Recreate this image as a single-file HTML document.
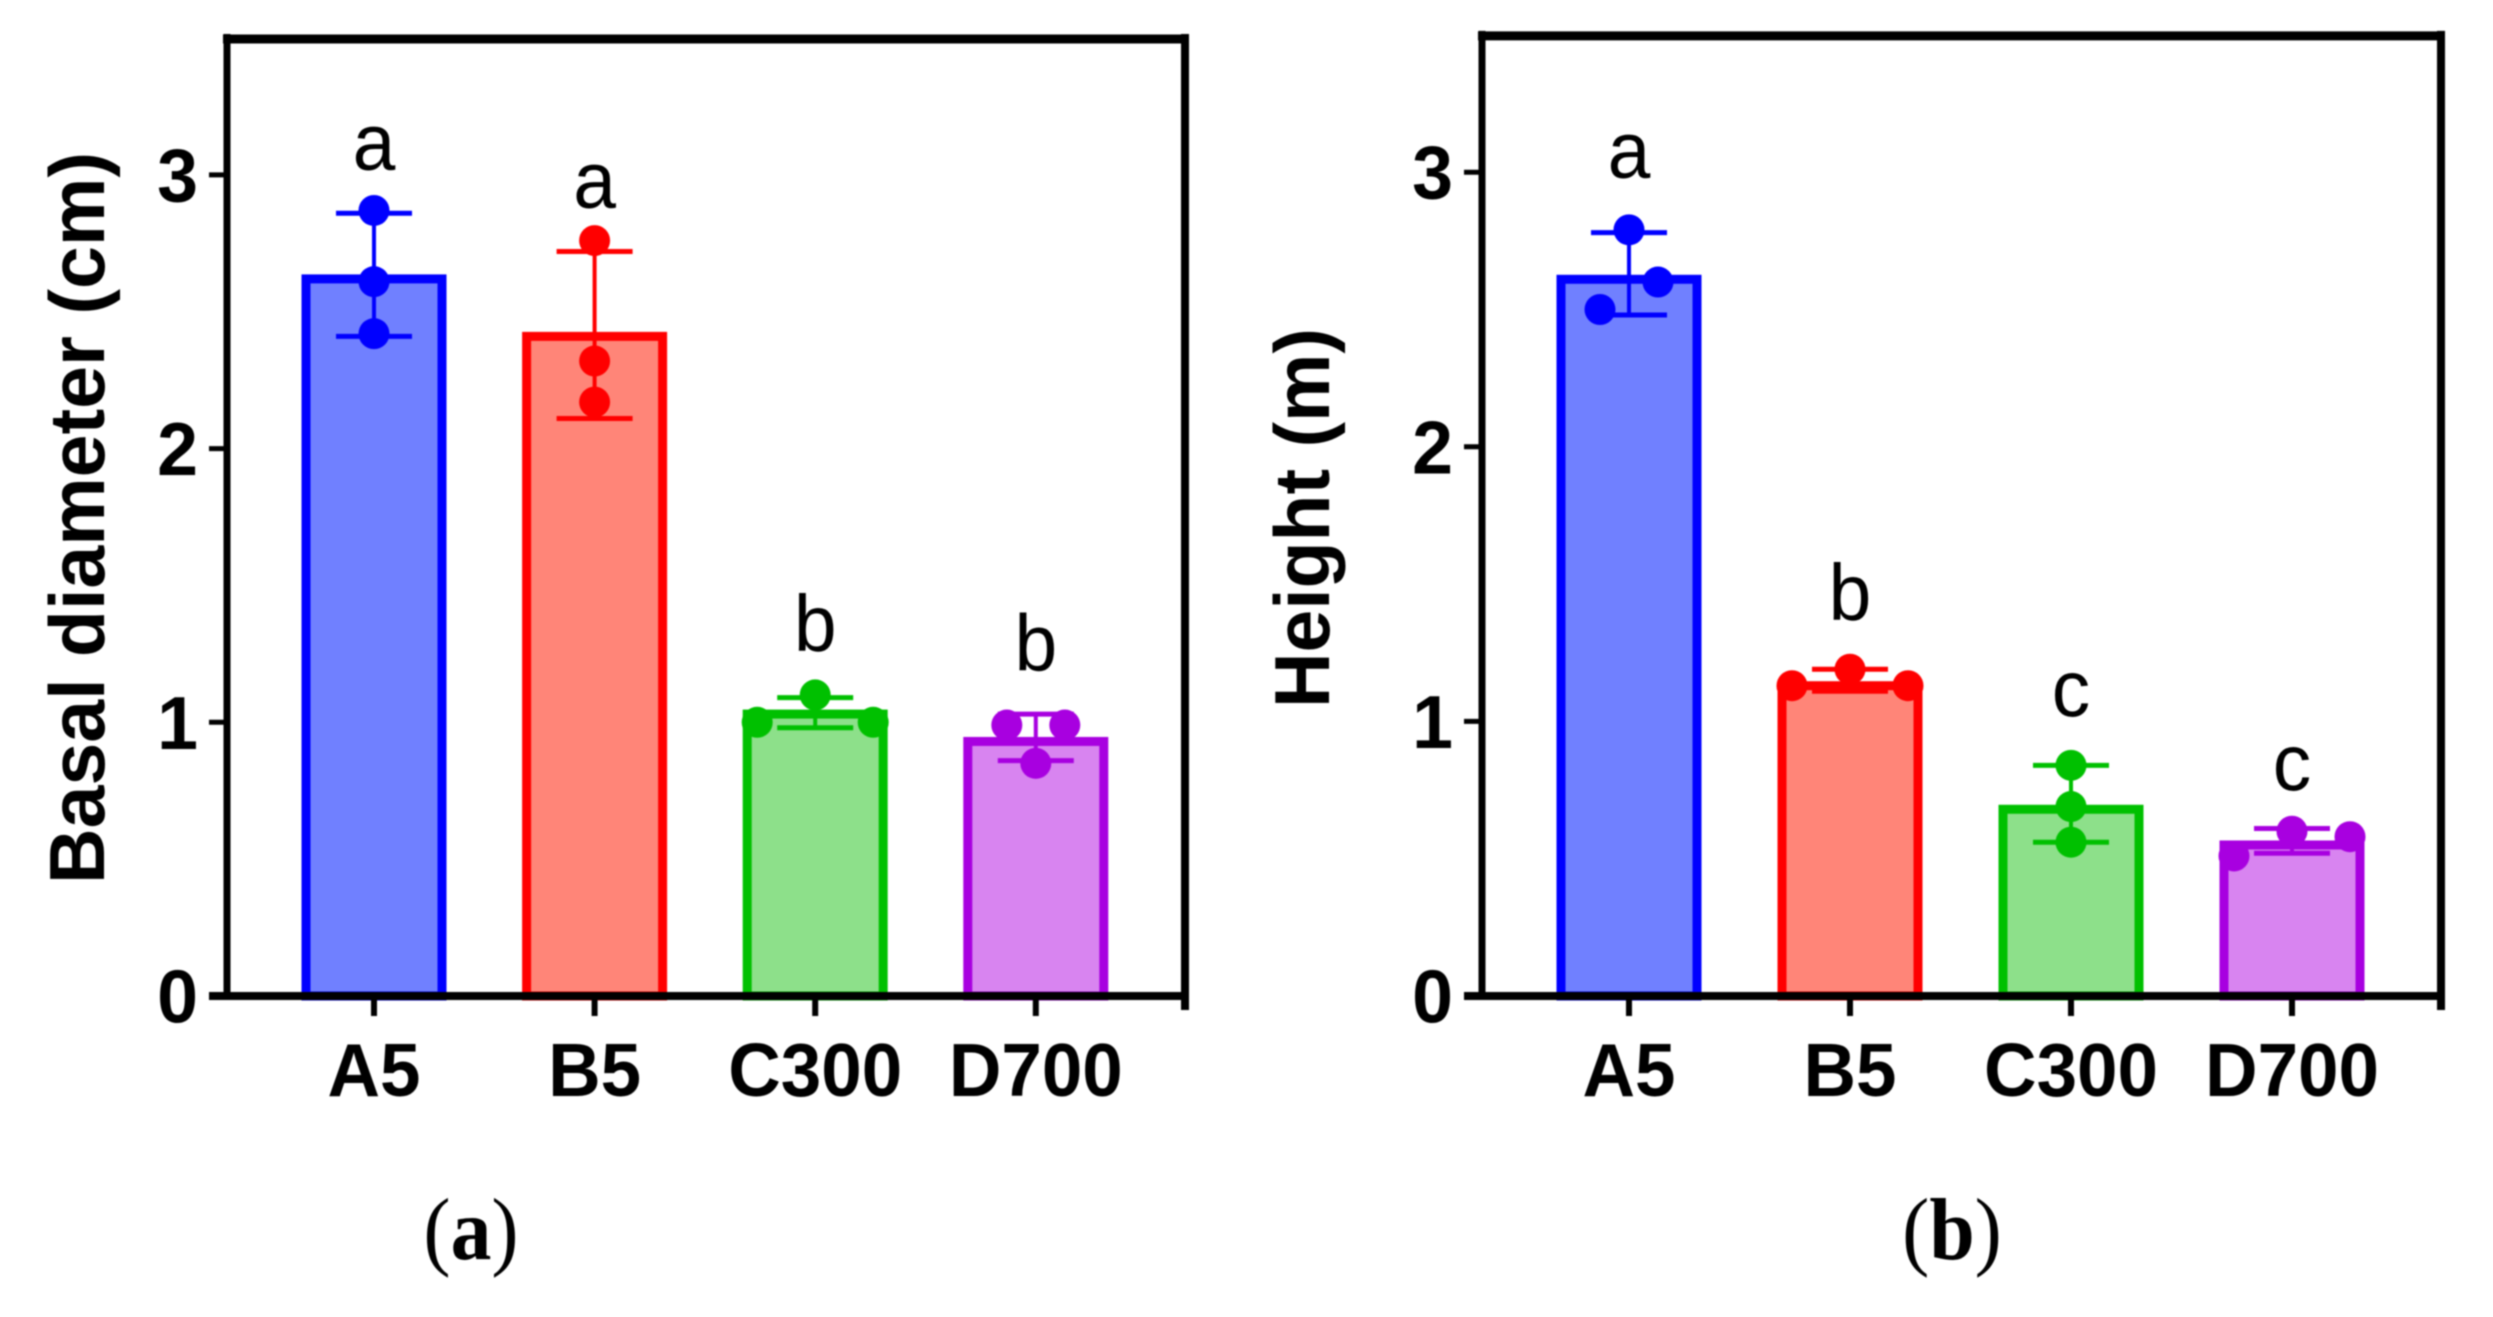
<!DOCTYPE html>
<html lang="en">
<head>
<meta charset="utf-8">
<title>Basal diameter and height by treatment</title>
<style>
html,body{margin:0;padding:0;background:#fff;}
body{width:2493px;height:1317px;overflow:hidden;}
svg{display:block;filter:blur(0.8px);}
text{fill:#000;}
</style>
</head>
<body>
<svg id="figure" xmlns="http://www.w3.org/2000/svg" width="2493" height="1317" viewBox="0 0 2493 1317">
  <rect x="0" y="0" width="2493" height="1317" fill="#fff"/>
  <g id="panel-a"></g>
  <g id="panel-b"></g>
  <text transform="translate(471,1259) scale(1.02,1.1)" text-anchor="middle" font-family="'Liberation Serif',serif" font-size="80">(<tspan font-weight="bold">a</tspan>)</text>
  <text transform="translate(1952,1259) scale(1.02,1.1)" text-anchor="middle" font-family="'Liberation Serif',serif" font-size="80">(<tspan font-weight="bold">b</tspan>)</text>
</svg>
<script>
const categories = ['A5', 'B5', 'C300', 'D700'];
const yTicks = [0, 1, 2, 3];
const yMax = 3.5;
const fillColors = ['#7080ff', '#ff8578', '#8de08a', '#d884f0'];
const strokeColors = ['#0000ff', '#ff0000', '#00c000', '#a800e0'];

const diameterMeans = [2.62, 2.41, 1.03, 0.93];
const diameterUpper = [2.86, 2.72, 1.09, 1.03];
const diameterLower = [2.41, 2.11, 0.98, 0.86];
const diameterPoints = [[2.87, 2.61, 2.42], [2.76, 2.32, 2.17], [1.10, 1.00, 1.00], [0.99, 0.99, 0.85]];
const diameterSwarmSlots = [[0, 0, 0], [0, 0, 0], [0, -2, 2], [-1, 1, 0]];
const diameterLetters = ['a', 'a', 'b', 'b'];
const diameterLetterValues = [3.02, 2.88, 1.26, 1.19];

const heightMeans = [2.61, 1.13, 0.68, 0.55];
const heightUpper = [2.78, 1.19, 0.84, 0.61];
const heightLower = [2.48, 1.11, 0.56, 0.52];
const heightPoints = [[2.79, 2.60, 2.50], [1.19, 1.13, 1.13], [0.84, 0.69, 0.56], [0.60, 0.58, 0.51]];
const heightSwarmSlots = [[0, 1, -1], [0, -2, 2], [0, 0, 0], [0, 2, -2]];
const heightLetters = ['a', 'b', 'c', 'c'];
const heightLetterValues = [2.98, 1.37, 1.02, 0.75];

const SVG_NS = 'http://www.w3.org/2000/svg';
const SANS = "'Liberation Sans',Arial,sans-serif";

function mk(parent, tag, attrs, text) {
  const node = document.createElementNS(SVG_NS, tag);
  for (const k in attrs) node.setAttribute(k, attrs[k]);
  if (text !== undefined) node.textContent = text;
  parent.appendChild(node);
  return node;
}

function drawPanel(root, cfg) {
  const y = v => cfg.y0 - v * cfg.unit;
  const x = i => cfg.x0 + i * cfg.step;
  const slotWidth = 29;
  const barWidth = 136;
  let el;

  for (let i = 0; i < categories.length; i++) {
    el = mk(root, 'rect', {x: x(i) - barWidth / 2, y: y(cfg.means[i]), width: barWidth, height: cfg.y0 - y(cfg.means[i]), fill: fillColors[i], stroke: strokeColors[i], 'stroke-width': 9});
    
    

    el = mk(root, 'line', {x1: x(i), x2: x(i), y1: y(cfg.upper[i]), y2: y(cfg.lower[i]), stroke: strokeColors[i], 'stroke-width': 4});
    
    

    el = mk(root, 'line', {x1: x(i) - 38, x2: x(i) + 38, y1: y(cfg.upper[i]), y2: y(cfg.upper[i]), stroke: strokeColors[i], 'stroke-width': 5});
    
    

    el = mk(root, 'line', {x1: x(i) - 38, x2: x(i) + 38, y1: y(cfg.lower[i]), y2: y(cfg.lower[i]), stroke: strokeColors[i], 'stroke-width': 5});
    
    

    for (let j = 0; j < cfg.points[i].length; j++) {
      el = mk(root, 'circle', {cx: x(i) + cfg.slots[i][j] * slotWidth, cy: y(cfg.points[i][j]), r: 15.5, fill: strokeColors[i]});
      
      
    }

    el = mk(root, 'text', {transform: 'translate(' + x(i) + ',' + y(cfg.letterValues[i]) + ') scale(.96,1)', 'text-anchor': 'middle', 'font-family': SANS, 'font-size': 80}, cfg.letters[i]);
    
    

    el = mk(root, 'line', {x1: x(i), x2: x(i), y1: cfg.y0, y2: cfg.y0 + 20, stroke: '#000', 'stroke-width': 6});
    
    

    el = mk(root, 'text', {transform: 'translate(' + x(i) + ',1096) scale(.97,1)', 'text-anchor': 'middle', 'font-family': SANS, 'font-weight': 'bold', 'font-size': 75}, categories[i]);
    
    
  }

  for (let t = 0; t < yTicks.length; t++) {
    el = mk(root, 'line', {x1: cfg.left - 18, x2: cfg.left, y1: y(yTicks[t]), y2: y(yTicks[t]), stroke: '#000', 'stroke-width': yTicks[t] === 0 ? 8 : 5});
    
    

    el = mk(root, 'text', {transform: 'translate(' + (cfg.left - 29) + ',' + (y(yTicks[t]) + 26.5) + ') scale(.98,1)', 'text-anchor': 'end', 'font-family': SANS, 'font-weight': 'bold', 'font-size': 75}, String(yTicks[t]));
    
    
  }

  const top = y(yMax);
  el = mk(root, 'line', {x1: cfg.left, x2: cfg.left, y1: top - 4, y2: cfg.y0 + 4, stroke: '#000', 'stroke-width': 7});
  
  

  el = mk(root, 'line', {x1: cfg.right, x2: cfg.right, y1: top - 4, y2: cfg.y0 + 14, stroke: '#000', 'stroke-width': 8});
  
  

  el = mk(root, 'line', {x1: cfg.left - 4, x2: cfg.right + 4, y1: top + 1, y2: top + 1, stroke: '#000', 'stroke-width': 9});
  
  

  el = mk(root, 'line', {x1: cfg.left - 18, x2: cfg.right + 4, y1: cfg.y0, y2: cfg.y0, stroke: '#000', 'stroke-width': 8});
  
  

  el = mk(root, 'text', {transform: 'translate(' + cfg.titleX + ',' + cfg.titleY + ') rotate(-90)', 'font-family': SANS, 'font-weight': 'bold', 'font-size': 78, textLength: cfg.titleLength, lengthAdjust: 'spacingAndGlyphs'}, cfg.title);
  
  
}

drawPanel(document.getElementById('panel-a'), {
  left: 227, right: 1185, y0: 996, unit: 273.7, x0: 374, step: 220.6,
  means: diameterMeans, upper: diameterUpper, lower: diameterLower,
  points: diameterPoints, slots: diameterSwarmSlots,
  letters: diameterLetters, letterValues: diameterLetterValues,
  title: 'Basal diameter (cm)', titleX: 104, titleY: 884, titleLength: 732
});

drawPanel(document.getElementById('panel-b'), {
  left: 1482, right: 2441, y0: 996, unit: 274.6, x0: 1629, step: 221,
  means: heightMeans, upper: heightUpper, lower: heightLower,
  points: heightPoints, slots: heightSwarmSlots,
  letters: heightLetters, letterValues: heightLetterValues,
  title: 'Height (m)', titleX: 1329, titleY: 708, titleLength: 380
});
</script>
</body>
</html>
